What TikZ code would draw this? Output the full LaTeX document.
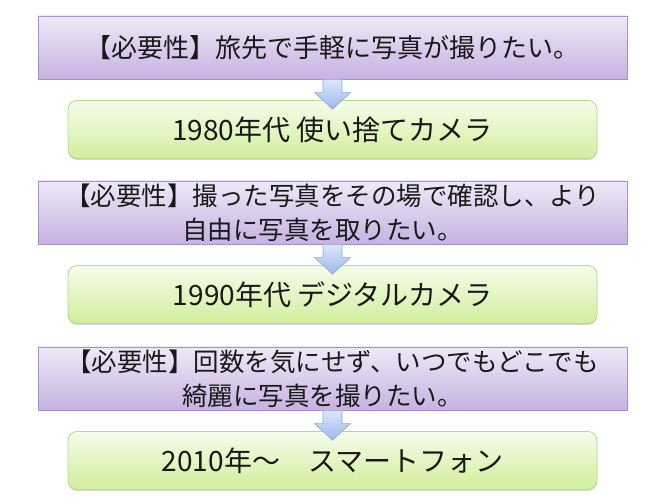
\documentclass[tikz,border=0pt]{standalone}
\usepackage{fontspec}
\setmainfont{Noto Sans CJK JP}
\usetikzlibrary{calc,shadows}
\definecolor{pTop}{HTML}{EEE9F7}
\definecolor{pBot}{HTML}{C6B2E1}
\definecolor{pLine}{HTML}{A690CF}
\definecolor{gTop}{HTML}{F6FCEA}
\definecolor{gBot}{HTML}{D1EE9C}
\definecolor{gLine}{HTML}{B8D98C}
\definecolor{aTop}{HTML}{DCE7FB}
\definecolor{aBot}{HTML}{9BB8EC}
\definecolor{aLine}{HTML}{8AA9DC}
\tikzset{
  needbox/.style={draw=pLine, line width=0.8pt, top color=pTop, bottom color=pBot,
    minimum width=589pt, minimum height=63pt, inner sep=0pt, align=center,
    font=\fontsize{25.5}{34}\selectfont, text=black!90,
    drop shadow={opacity=0.3, shadow xshift=0pt, shadow yshift=-1.5pt}},
  erabox/.style={draw=gLine, line width=0.8pt, top color=gTop, bottom color=gBot,
    rounded corners=9pt, minimum width=529pt, minimum height=58pt, inner sep=0pt,
    font=\fontsize{28}{32}\selectfont, text=black!90,
    drop shadow={opacity=0.3, shadow xshift=0pt, shadow yshift=-1.5pt}},
  barrow/.style={draw=aLine, line width=0.6pt, top color=aTop, bottom color=aBot, line join=miter}
}
\newcommand\downblockarrow[2]{%
  \draw[barrow] let \p1=(#1.south), \p2=(#2.north) in
    ($(\x1,\y1)+(-9.5pt,0pt)$) -- ($(\x1,\y1)+(9.5pt,0pt)$)
    -- ($(\x1,\y2)+(9.5pt,7.5pt)$) -- ($(\x1,\y2)+(18pt,7.5pt)$)
    -- ($(\x1,\y2)+(0pt,-9pt)$)
    -- ($(\x1,\y2)+(-18pt,7.5pt)$) -- ($(\x1,\y2)+(-9.5pt,7.5pt)$) -- cycle;
}
\begin{document}
\begin{tikzpicture}[x=1pt,y=1pt]
\useasboundingbox (0,0) rectangle (670,503);
\fill[white] (0,0) rectangle (670,503);
\node[needbox, font=\fontsize{26}{34}\selectfont] (p1) at (332.5,455.5) {【必要性】旅先で手軽に写真が撮りたい。};
\node[erabox]  (g1) at (332.5,373.5) {1980年代 使い捨てカメラ};
\node[needbox] (p2) at (332.5,290.5) {【必要性】撮った写真をその場で確認し、より\\自由に写真を取りたい。\hspace*{20pt}};
\node[erabox]  (g2) at (332.5,208.5) {1990年代 デジタルカメラ};
\node[needbox] (p3) at (332.5,124.5) {【必要性】回数を気にせず、いつでもどこでも\\綺麗に写真を撮りたい。\hspace*{20pt}};
\node[erabox]  (g3) at (332.5,42.5) {2010年～　スマートフォン};
\downblockarrow{p1}{g1}
\downblockarrow{p2}{g2}
\downblockarrow{p3}{g3}
\end{tikzpicture}
\end{document}
